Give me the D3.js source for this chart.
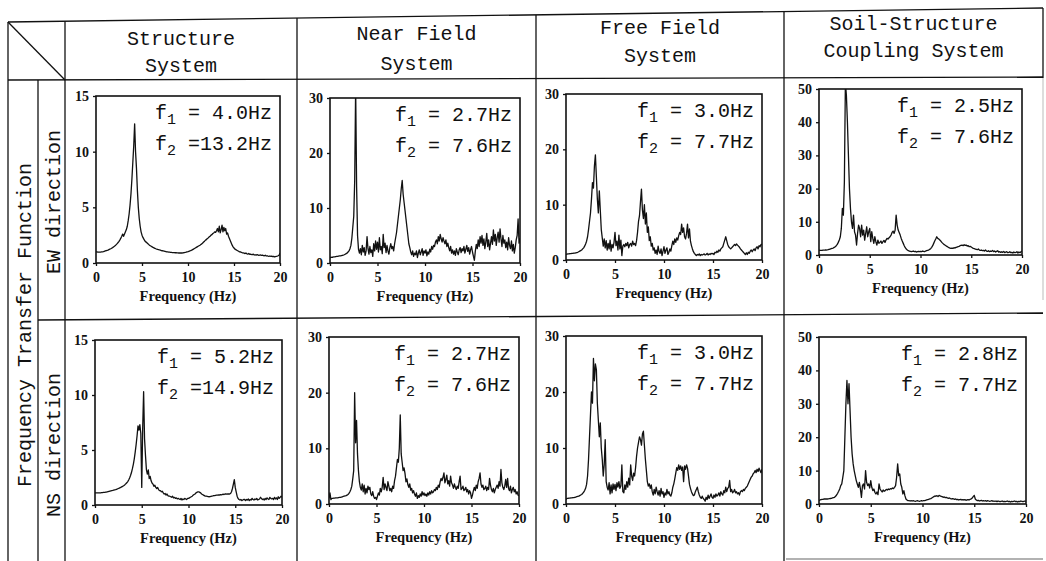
<!DOCTYPE html>
<html><head><meta charset="utf-8">
<script src="https://cdn.jsdelivr.net/npm/d3@7"></script>
<style>
body{margin:0;background:#fff}
svg{display:block}
text{white-space:pre}
</style></head><body>
<svg id="c" width="1046" height="561"></svg>
<script>
// ---------- data ----------
const columnTitles = [["Structure","System"],["Near Field","System"],["Free Field","System"],["Soil-Structure","Coupling System"]];
const rowTitles = ["EW direction","NS direction"];
const sideTitle = "Frequency Transfer Function";
const xTitle = "Frequency (Hz)";
const xTicks = [0,5,10,15,20];
const yTicksByColumn = [[0,5,10,15],[0,10,20,30],[0,10,20,30],[0,10,20,30,40,50]];
const yMaxByColumn = [15,30,30,50];
const f1Labels = [["4.0","2.7","3.0","2.5"],["5.2","2.7","3.0","2.8"]];
const f2Labels = [["13.2","7.6","7.7","7.6"],["14.9","7.6","7.7","7.7"]];
const freqStep = 0.1; // Hz, samples from 0 to 20 Hz

const structureEW = [
1.0,1.0,0.98,0.97,0.97,0.98,1.0,1.0,1.02,1.05,
1.08,1.1,1.13,1.16,1.2,1.24,1.28,1.33,1.38,1.44,
1.5,1.57,1.65,1.74,1.84,1.95,2.08,2.23,2.4,2.6,
2.4,2.6,2.8,3.0,3.3,3.8,4.4,5.2,6.2,7.5,
9.0,10.5,12.5,10.0,8.5,6.5,5.0,4.0,3.3,2.8,
2.5,2.3,2.15,2.0,1.9,1.85,1.75,1.7,1.6,1.55,
1.5,1.45,1.4,1.36,1.32,1.28,1.25,1.22,1.2,1.17,
1.15,1.12,1.1,1.08,1.06,1.04,1.02,1.0,0.99,0.98,
0.97,0.96,0.95,0.94,0.93,0.93,0.92,0.92,0.91,0.91,
0.9,0.9,0.9,0.91,0.9,0.92,0.93,0.95,0.97,1.0,
1.02,1.05,1.08,1.12,1.15,1.2,1.25,1.3,1.35,1.4,
1.45,1.5,1.55,1.6,1.66,1.72,1.8,1.88,1.96,2.05,
2.1,2.2,2.25,2.35,2.4,2.5,2.55,2.65,2.7,2.8,
2.75,2.9,3.1,2.8,3.3,2.7,3.0,3.4,2.8,3.2,
2.9,3.1,2.6,2.7,2.4,2.2,2.0,1.8,1.6,1.45,
1.35,1.25,1.2,1.15,1.1,1.05,1.0,1.0,0.95,0.92,
0.9,0.88,0.85,0.9,0.82,0.8,0.85,0.78,0.8,0.76,
0.75,0.8,0.72,0.74,0.7,0.75,0.72,0.68,0.7,0.72,
0.68,0.7,0.66,0.65,0.7,0.63,0.65,0.62,0.6,0.63,
0.6,0.62,0.58,0.6,0.55,0.58,0.6,0.62,0.65,0.7,
0.9];

const nearFieldEW = [
1.0,1.0,1.05,1.05,1.1,1.1,1.15,1.2,1.2,1.25,
1.3,1.3,1.35,1.4,1.45,1.5,1.6,1.7,1.8,2.0,
2.2,2.6,3.2,4.5,6.5,8.5,15.0,32.0,14.0,5.0,
2.5,1.8,2.6,1.5,3.2,2.0,2.8,1.4,2.2,4.8,
2.6,1.6,3.0,1.9,2.4,1.2,3.5,2.2,4.0,2.5,
3.8,2.0,4.6,2.4,3.0,1.7,5.2,2.8,3.6,1.9,
3.2,2.2,1.6,2.8,3.5,2.6,3.0,2.2,3.5,4.5,
5.5,7.0,8.5,10.0,11.5,13.5,15.0,12.5,11.0,9.5,
8.0,6.5,5.0,3.5,2.8,2.0,1.5,2.2,1.2,1.8,
1.5,2.2,1.0,1.8,2.4,1.5,2.0,2.6,1.4,2.2,
1.8,2.4,1.3,2.0,1.6,2.5,2.0,3.0,2.5,3.2,
3.0,3.8,4.2,3.5,4.8,4.0,5.2,4.4,3.8,4.6,
4.0,3.5,4.2,3.0,3.6,2.8,2.2,3.0,1.8,2.4,
1.6,2.2,1.4,2.6,2.0,1.5,2.4,2.8,1.9,2.6,
2.2,3.0,1.8,2.5,3.2,2.1,2.8,1.6,2.4,3.0,
2.0,1.2,0.5,2.2,3.4,2.6,4.2,3.0,4.8,3.6,
5.0,3.2,4.4,2.6,3.8,5.4,3.0,4.2,2.4,3.6,
4.8,3.4,6.0,4.0,5.2,3.2,4.6,5.6,3.8,6.2,
4.4,3.0,5.0,3.6,4.2,2.8,3.8,2.4,4.6,3.2,
2.6,4.0,2.2,3.4,1.8,2.8,4.2,5.0,8.0,3.6,
4.5];

const freeFieldEW = [
1.0,1.05,1.1,1.1,1.15,1.15,1.2,1.2,1.25,1.25,
1.3,1.35,1.4,1.5,1.6,1.7,1.8,2.0,2.2,2.5,
2.9,3.4,4.2,5.5,7.0,8.5,11.0,14.0,13.0,17.0,
19.0,15.0,11.0,8.5,12.5,9.0,5.5,4.0,2.5,3.8,
2.2,3.5,1.8,3.0,2.0,3.6,1.6,2.8,2.2,3.2,
5.0,2.6,3.4,1.8,4.5,2.0,3.6,0.8,2.5,2.8,
2.4,3.0,2.6,3.2,2.2,2.8,3.0,2.5,3.4,2.8,
3.0,2.6,3.5,5.0,7.0,8.0,10.5,12.8,9.0,7.5,
10.0,6.5,8.5,5.0,6.0,3.5,4.2,2.5,3.0,1.8,
2.2,1.2,1.8,1.0,2.5,1.5,1.2,2.0,0.8,1.6,
2.4,1.2,1.8,2.2,1.0,1.4,2.0,1.6,2.6,3.4,
2.8,3.8,3.2,4.0,3.6,4.4,5.0,4.6,6.5,5.0,
5.8,4.2,3.8,4.8,6.5,4.0,5.6,3.4,2.6,2.0,
1.5,1.2,1.0,0.8,1.0,0.9,1.1,0.8,1.0,0.9,
1.0,1.1,0.9,1.0,1.2,0.9,1.1,1.0,1.2,1.1,
1.2,1.0,1.4,1.3,1.6,1.4,1.8,1.6,2.0,2.2,
2.4,3.0,3.6,4.2,3.5,2.8,2.4,2.2,2.0,2.2,
2.4,2.6,2.8,2.6,2.9,2.7,2.5,2.3,2.0,1.8,
1.6,1.4,1.2,1.0,1.3,1.0,1.4,1.2,1.6,1.8,
1.5,1.8,2.0,1.7,2.2,2.4,2.0,2.6,2.4,2.8,
2.8];

const couplingEW = [
1.5,1.4,1.4,1.4,1.45,1.45,1.5,1.5,1.55,1.6,
1.7,1.8,1.9,2.0,2.1,2.3,2.5,2.8,3.2,3.8,
4.5,5.5,8.0,14.0,12.0,22.0,52.0,48.0,40.0,30.0,
20.0,14.0,10.0,8.0,12.0,7.0,6.0,3.0,6.5,9.0,
8.0,5.5,9.0,6.0,7.5,4.5,6.5,8.5,5.5,7.0,
8.0,4.0,7.0,5.0,3.5,5.5,4.0,3.0,4.5,3.5,
3.8,4.2,3.5,4.0,4.4,3.8,4.5,5.0,4.8,5.2,
5.5,6.0,6.8,7.2,6.5,7.5,12.0,9.0,7.5,6.8,
6.0,5.0,4.2,3.5,2.8,2.2,1.8,1.5,1.3,1.2,
1.1,1.0,1.1,1.2,1.0,1.1,0.9,1.0,1.1,1.0,
1.1,1.0,1.2,1.1,1.0,1.2,1.3,1.4,1.5,1.7,
1.9,2.3,2.8,3.5,4.2,4.8,5.5,5.0,4.8,4.5,
4.2,3.8,3.5,3.2,3.0,2.8,2.6,2.4,2.2,2.1,
2.0,2.1,2.0,2.2,2.1,2.3,2.4,2.5,2.6,2.8,
2.9,3.0,2.8,3.1,2.9,3.0,2.7,2.8,2.5,2.6,
2.4,2.2,2.0,1.9,1.8,1.7,1.6,1.8,1.5,1.4,
1.5,1.3,1.4,1.2,1.5,1.2,1.1,1.3,1.0,1.2,
1.1,1.4,1.0,1.2,0.9,1.1,1.3,0.9,1.0,0.8,
1.0,0.8,1.1,0.7,0.9,1.0,0.7,0.8,1.0,0.7,
0.8,0.6,0.9,0.7,0.8,1.0,0.6,0.9,0.7,1.0,
1.2];

const structureNS = [
1.1,1.1,1.1,1.1,1.1,1.1,1.1,1.12,1.12,1.14,
1.15,1.16,1.18,1.2,1.22,1.24,1.26,1.28,1.3,1.32,
1.35,1.38,1.4,1.43,1.46,1.5,1.54,1.58,1.62,1.67,
1.72,1.78,1.85,1.93,2.02,2.13,2.27,2.45,2.68,2.95,
3.3,3.7,4.2,4.8,5.5,6.3,7.2,6.8,7.3,6.5,
1.6,7.0,10.3,6.0,4.5,3.2,2.8,3.2,2.4,2.6,
2.2,2.0,1.9,1.7,1.8,1.6,1.5,1.6,1.4,1.3,
1.3,1.2,1.25,1.1,1.0,1.05,0.9,1.0,0.85,0.8,
0.8,0.75,0.7,0.8,0.65,0.7,0.6,0.65,0.55,0.6,
0.55,0.5,0.6,0.45,0.55,0.5,0.6,0.55,0.5,0.6,
0.6,0.65,0.7,0.75,0.8,0.9,0.95,1.0,1.1,1.15,
1.2,1.2,1.15,1.1,1.0,0.95,0.9,0.85,0.8,0.8,
0.78,0.76,0.75,0.76,0.78,0.8,0.82,0.85,0.85,0.88,
0.9,0.9,0.92,0.9,0.95,0.92,0.95,0.98,0.95,1.0,
1.0,0.98,1.0,1.02,1.0,1.05,1.2,1.5,1.9,2.3,
1.6,1.2,0.8,0.6,0.5,0.45,0.5,0.4,0.45,0.5,
0.5,0.4,0.5,0.45,0.55,0.4,0.5,0.45,0.6,0.5,
0.45,0.55,0.5,0.6,0.45,0.5,0.55,0.7,0.6,0.5,
0.55,0.45,0.6,0.5,0.65,0.55,0.5,0.7,0.6,0.55,
0.6,0.5,0.7,0.55,0.65,0.5,0.75,0.6,0.7,0.8,
0.7];

const nearFieldNS = [
1.0,2.0,0.8,1.0,1.0,1.05,1.05,1.1,1.1,1.1,
1.15,1.2,1.2,1.25,1.3,1.35,1.4,1.45,1.5,1.6,
1.7,1.9,2.2,2.6,3.2,4.5,6.0,20.0,11.0,15.0,
9.0,6.0,4.0,3.0,2.5,3.6,2.2,3.4,1.8,2.8,
2.0,3.2,2.6,3.0,1.8,1.5,2.2,1.4,1.0,1.2,
0.8,1.4,2.0,1.6,2.8,2.2,3.0,4.8,2.6,3.6,
3.0,2.4,4.0,3.2,2.4,2.8,2.2,3.2,2.8,4.2,
5.0,6.5,8.0,7.5,10.0,16.0,9.0,7.5,6.0,6.5,
5.5,4.0,4.5,3.5,3.0,3.6,2.5,2.8,2.0,2.4,
1.8,1.4,2.0,1.0,1.5,1.2,1.8,1.4,2.2,1.6,
2.0,1.5,1.8,1.4,2.0,1.6,2.2,1.8,2.4,2.0,
2.2,2.6,2.4,3.0,2.6,3.4,3.0,4.0,4.6,4.2,
4.8,5.6,3.8,4.4,5.2,3.6,4.2,3.2,5.0,3.8,
3.4,2.8,3.6,3.0,2.6,3.2,2.8,4.0,5.0,2.6,
2.8,3.2,2.4,2.6,3.0,2.2,2.6,1.8,2.4,2.0,
1.0,1.6,2.4,3.0,2.4,3.4,2.8,4.0,4.6,5.6,
3.6,3.0,3.4,2.6,2.8,3.2,2.4,3.0,2.6,4.6,
3.4,2.6,2.2,2.8,2.0,2.6,3.0,3.4,2.8,4.0,
3.2,6.2,3.8,3.0,2.6,3.2,4.4,3.0,4.6,2.8,
2.4,3.2,2.0,2.6,3.0,2.2,2.6,1.8,2.2,1.6,
1.5];

const freeFieldNS = [
0.8,1.0,1.0,1.05,1.05,1.1,1.1,1.15,1.15,1.2,
1.25,1.3,1.35,1.4,1.5,1.6,1.7,1.9,2.1,2.4,
2.8,3.5,5.0,8.0,12.0,16.0,20.0,18.0,26.0,22.0,
25.0,24.0,18.0,15.0,12.0,14.5,10.0,8.0,5.0,7.0,
11.5,4.0,3.0,2.5,3.8,1.8,3.4,2.0,3.6,2.6,
3.5,2.4,3.8,3.0,4.0,2.8,3.2,7.0,2.2,2.0,
3.4,2.6,4.0,3.0,4.6,3.4,7.0,5.0,4.2,5.5,
5.0,6.5,8.5,10.0,11.0,12.0,11.5,10.5,12.5,13.0,
10.5,8.0,6.0,4.0,3.2,3.6,2.8,3.4,2.2,1.6,
2.6,1.8,3.0,2.2,1.6,2.4,1.4,2.8,1.8,2.2,
1.2,2.0,1.6,2.6,1.8,2.2,1.6,1.4,2.0,3.0,
3.6,4.5,5.5,6.5,6.0,7.0,6.2,6.8,6.0,6.6,
4.0,6.8,6.2,7.0,6.4,5.0,3.5,2.8,2.2,1.8,
1.5,1.6,2.2,2.6,3.0,2.2,1.6,1.2,1.0,1.4,
1.0,0.8,0.5,1.2,0.8,1.6,1.0,1.4,1.8,1.2,
1.0,1.6,1.2,1.8,1.4,1.6,2.0,1.4,2.2,1.8,
1.6,2.4,2.0,3.0,2.2,2.8,3.0,4.2,2.2,2.6,
2.0,2.2,2.6,2.0,2.2,1.8,2.0,1.6,2.2,2.4,
2.2,2.6,2.4,2.8,3.0,3.2,3.6,4.0,4.4,4.8,
5.0,5.4,5.6,6.0,5.6,6.2,5.8,6.4,6.0,5.6,
6.2];

const couplingNS = [
1.0,1.2,1.3,1.4,1.4,1.5,1.5,1.5,1.5,1.55,
1.6,1.65,1.7,1.8,1.9,2.0,2.3,2.7,3.2,3.8,
4.5,5.5,6.0,8.0,10.0,20.0,30.0,37.0,30.0,36.0,
28.0,20.0,15.0,12.0,10.0,8.5,7.0,6.0,5.0,6.5,
4.5,2.0,5.5,6.0,4.5,10.0,6.5,5.5,6.0,4.8,
7.0,5.0,4.0,4.5,3.5,3.0,3.6,2.8,6.0,4.5,
4.0,3.6,4.2,3.8,4.0,4.4,4.2,4.5,4.3,4.6,
4.5,4.8,4.6,5.0,5.5,8.0,12.0,8.5,9.0,6.0,
5.0,3.0,4.0,2.5,1.5,1.2,1.0,1.0,0.9,1.0,
0.9,1.0,0.9,0.8,0.9,1.0,0.9,0.8,0.9,1.0,
0.9,1.0,1.0,1.1,1.2,1.3,1.4,1.5,1.6,1.8,
2.0,2.2,2.4,2.3,2.5,2.2,2.6,2.4,2.3,2.2,
2.0,2.1,1.9,2.0,1.8,1.7,1.8,1.6,1.5,1.6,
1.5,1.4,1.5,1.3,1.4,1.2,1.3,1.4,1.2,1.3,
1.2,1.3,1.1,1.2,1.3,1.2,1.4,1.5,1.8,2.2,
2.6,1.5,1.2,1.0,1.1,0.9,1.0,1.1,0.9,1.0,
0.9,1.0,0.8,1.0,0.9,0.8,0.9,1.0,0.8,0.9,
0.8,0.9,0.7,0.9,0.8,0.7,0.8,0.9,0.7,0.8,
0.7,0.8,0.9,0.7,0.8,0.6,0.8,0.7,0.8,0.9,
0.7,0.8,0.6,0.8,0.7,0.9,0.8,0.7,0.8,0.9,
0.8];

const seriesGrid = [
  [structureEW, nearFieldEW, freeFieldEW, couplingEW],
  [structureNS, nearFieldNS, freeFieldNS, couplingNS]
];

// ---------- layout (pixel positions) ----------
const frames = [
  [[96,96,280,263],[330,98,520,263],[566,94,762,260],[819,89,1022,255]],
  [[95,340,282,505],[329,337,519,504],[566,336,762,504],[819,337,1026,504]]
];
const colEdges = [65,297,536,784,1043];
const headerBaselines = [[45,72],[40,70],[34,62],[30,57]];
const INK = "#111";
const MONO = "'Liberation Mono','Courier New',monospace";
const SERIF = "'Liberation Serif','Times New Roman',serif";

const svg = d3.select("#c");
const g = svg.append("g");

// ---------- table lines ----------
const lines = [
  [8,22,1043,8],      // top border (scan is slightly tilted)
  [8,22,8,561],       // left border
  [38,80,38,561],     // inner label column
  [65,21,65,561],
  [297,18,297,561],
  [536,15,536,561],
  [784,12,784,561],
  [1043,8,1043,78],   // right border (header)
  [8,22,65,80],       // diagonal corner
  [8,80,1043,77],     // header bottom
  [38,320,1043,313]   // EW / NS separator
];
g.selectAll("line.tbl").data(lines).join("line").attr("class","tbl")
  .attr("x1",d=>d[0]).attr("y1",d=>d[1]).attr("x2",d=>d[2]).attr("y2",d=>d[3])
  .attr("stroke",INK).attr("stroke-width",1.3);
g.append("line").attr("x1",786).attr("y1",559).attr("x2",1043).attr("y2",559)
  .attr("stroke","#999").attr("stroke-width",1.5);
g.append("line").attr("x1",1043).attr("y1",78).attr("x2",1043).attr("y2",300)
  .attr("stroke","#bbb").attr("stroke-width",1);

// ---------- header titles ----------
columnTitles.forEach((t,ci)=>{
  const cx = (colEdges[ci]+colEdges[ci+1])/2;
  t.forEach((s,li)=>{
    g.append("text").attr("x",cx).attr("y",headerBaselines[ci][li])
      .attr("text-anchor","middle").attr("font-family",MONO).attr("font-size",20)
      .attr("fill",INK).text(s);
  });
});

// ---------- row titles ----------
g.append("text").attr("transform","translate(31,325) rotate(-90)")
  .attr("text-anchor","middle").attr("font-family",MONO).attr("font-size",20)
  .attr("fill",INK).text(sideTitle);
[202,445].forEach((cy,ri)=>{
  g.append("text").attr("transform",`translate(60,${cy}) rotate(-90)`)
    .attr("text-anchor","middle").attr("font-family",MONO).attr("font-size",20)
    .attr("fill",INK).text(rowTitles[ri]);
});

// ---------- panels ----------
seriesGrid.forEach((row,ri)=>{
  row.forEach((vals,ci)=>{
    const [x0,y0,x1,y1] = frames[ri][ci];
    const x = d3.scaleLinear().domain([0,20]).range([x0,x1]);
    const y = d3.scaleLinear().domain([0,yMaxByColumn[ci]]).range([y1,y0]);
    const p = g.append("g");
    const clipId = `clip-${ri}-${ci}`;
    p.append("clipPath").attr("id",clipId).append("rect")
      .attr("x",x0).attr("y",y0).attr("width",x1-x0).attr("height",y1-y0);

    const line = d3.line().x((d,i)=>x(i*freqStep)).y(d=>y(d));
    p.append("path").datum(vals).attr("d",line).attr("clip-path",`url(#${clipId})`)
      .attr("fill","none").attr("stroke",INK).attr("stroke-width",1.3)
      .attr("stroke-linejoin","round");

    p.append("rect").attr("x",x0).attr("y",y0).attr("width",x1-x0).attr("height",y1-y0)
      .attr("fill","none").attr("stroke",INK).attr("stroke-width",1.6);

    const ax = p.append("g").attr("transform",`translate(0,${y1})`)
      .call(d3.axisBottom(x).tickValues(xTicks).tickSize(3).tickPadding(6));
    const ay = p.append("g").attr("transform",`translate(${x0},0)`)
      .call(d3.axisLeft(y).tickValues(yTicksByColumn[ci]).tickSize(3).tickPadding(4));
    [ax,ay].forEach(a=>{
      a.attr("font-family",SERIF).attr("font-size",14).attr("font-weight","bold");
      a.select(".domain").remove();
      a.selectAll("line").attr("stroke",INK).attr("stroke-width",1.3);
      a.selectAll("text").attr("fill",INK).style("font-size","14px")
        .style("font-family",SERIF).style("font-weight","bold");
    });

    p.append("text").attr("x",(x0+x1)/2).attr("y",y1+38).attr("text-anchor","middle")
      .style("font-family",SERIF).style("font-weight","bold").style("font-size","14.5px")
      .attr("fill",INK).text(xTitle);

    // annotations
    [[f1Labels,"1",23],[f2Labels,"2",54]].forEach(([labs,sub,dy])=>{
      const t = p.append("text").attr("x",x1-8).attr("y",y0+dy).attr("text-anchor","end")
        .attr("font-family",MONO).attr("font-size",20).attr("fill",INK);
      t.append("tspan").text("f");
      t.append("tspan").attr("font-size",15).attr("dy",5).text(sub);
      t.append("tspan").attr("dy",-5).text(" =" + labs[ri][ci].padStart(4," ") + "Hz");
    });
  });
});
</script>
</body></html>
